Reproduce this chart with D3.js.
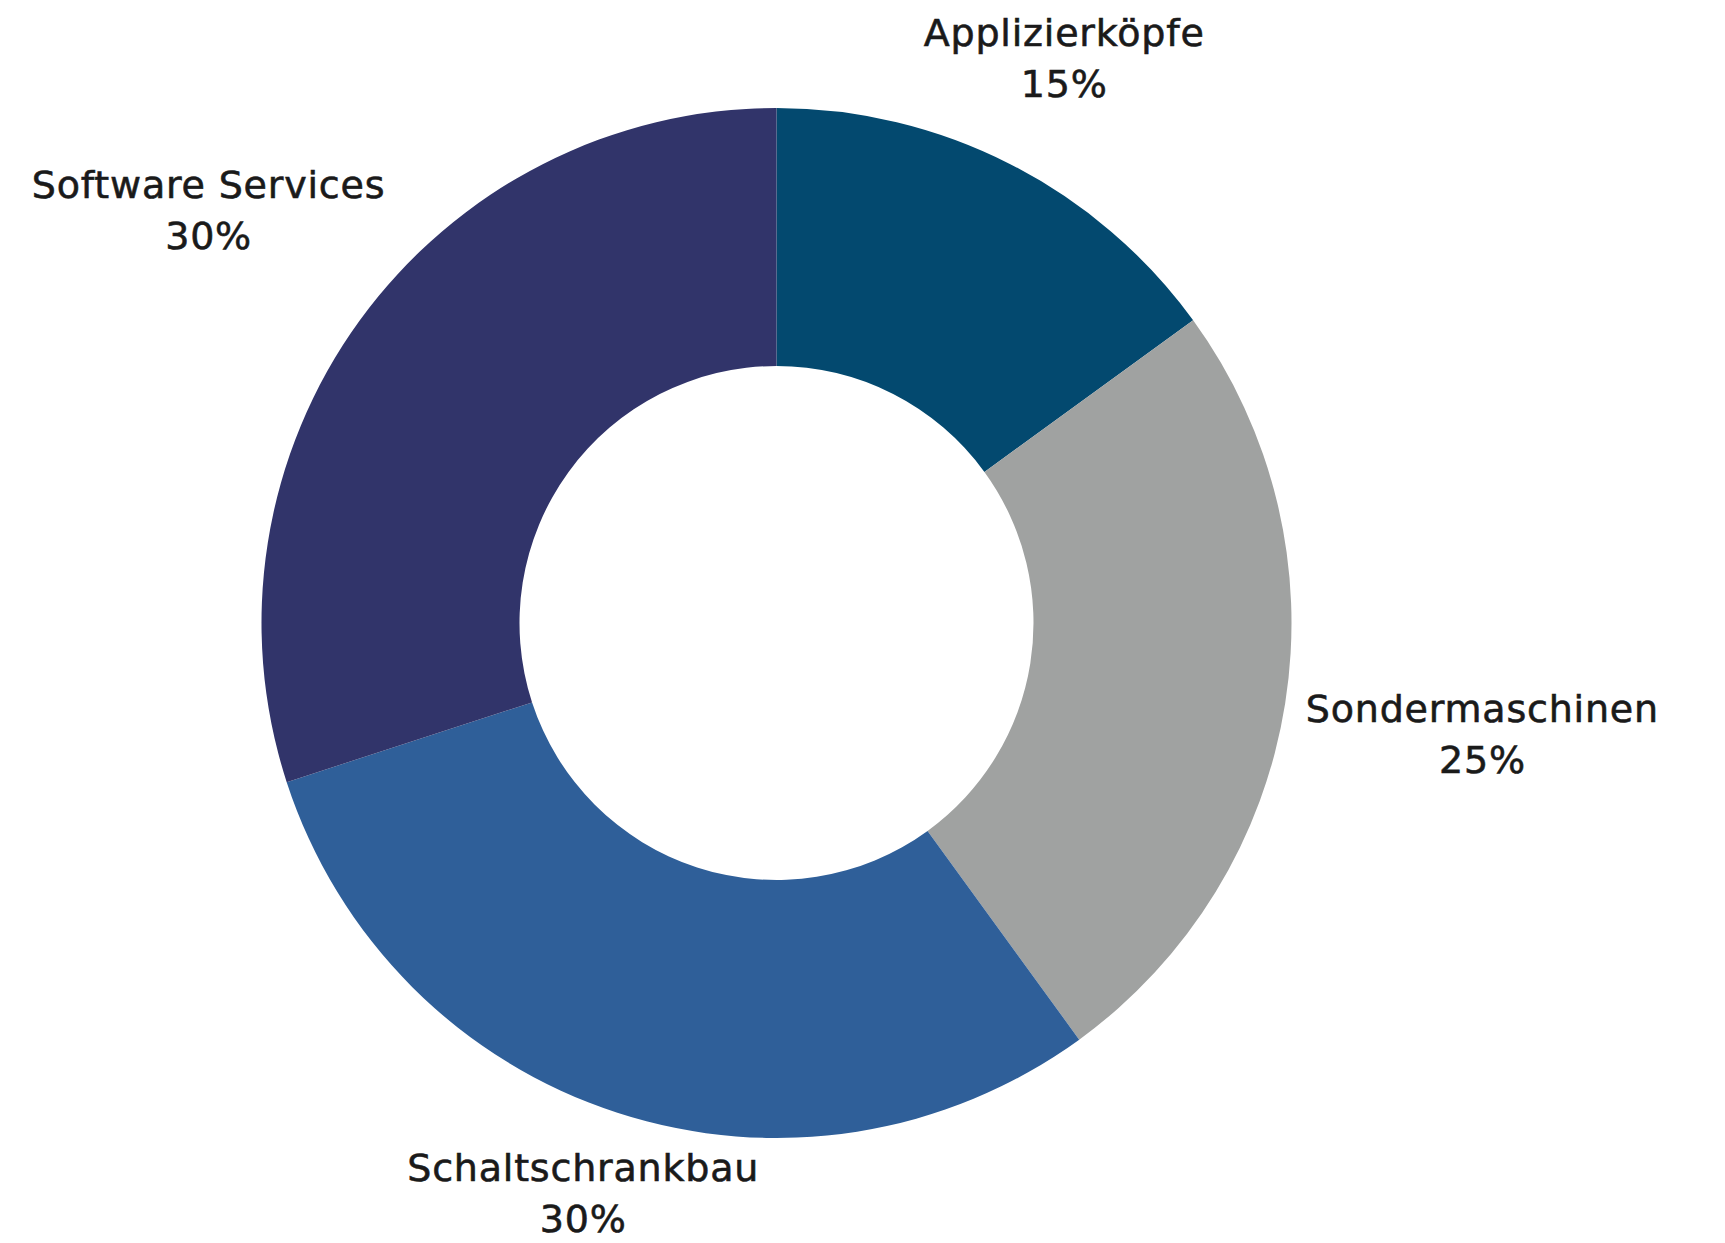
<!DOCTYPE html>
<html>
<head>
<meta charset="utf-8">
<script src="https://cdn.jsdelivr.net/npm/d3@7"></script>
<style>
  html, body { margin: 0; padding: 0; background: #ffffff; }
  svg { display: block; }
</style>
</head>
<body>
<svg id="chart" width="1725" height="1243"></svg>
<script>
const categories = ["Applizierköpfe", "Sondermaschinen", "Schaltschrankbau", "Software Services"];
const values = [15, 25, 30, 30];
const colors = ["#03496f", "#a0a2a1", "#2f5f99", "#31346a"];

const W = 1725, H = 1243;
const cx = 776.5, cy = 623;
const outerR = 515, innerR = 257;
const labelGap = 8;

const data = categories.map((c, i) => ({ name: c, value: values[i], color: colors[i] }));
const svg = d3.select("#chart");
const g = svg.append("g").attr("transform", `translate(${cx},${cy})`);

const pie = d3.pie().value(d => d.value).sort(null);
const arc = d3.arc().innerRadius(innerR).outerRadius(outerR);
const arcs = pie(data);

g.selectAll("path.slice")
  .data(arcs)
  .enter().append("path")
  .attr("class", "slice")
  .attr("d", arc)
  .attr("fill", d => d.data.color);

const total = d3.sum(values);
const fmt = v => Math.round(v / total * 100) + "%";

const labels = g.selectAll("g.label")
  .data(arcs)
  .enter().append("g")
  .attr("class", "label");

labels.each(function(d) {
  const sel = d3.select(this);
  const t = sel.append("text")
    .attr("text-anchor", "middle")
    .style("font-family", "'DejaVu Sans', sans-serif")
    .style("font-size", "38px")
    .style("letter-spacing", "0.8px")
    .attr("fill", "#1a1a1a")
    .attr("stroke", "#1a1a1a")
    .attr("stroke-width", 0.6);
  t.append("tspan").attr("x", 0).attr("y", 0).text(d.data.name);
  t.append("tspan").attr("x", 0).attr("y", 51).text(fmt(d.data.value));
  const bb = t.node().getBBox();
  const a = (d.startAngle + d.endAngle) / 2;
  const s = Math.sin(a), c = Math.cos(a);
  const dist = outerR + labelGap + Math.abs(s) * (bb.width / 2 + 10) + Math.abs(c) * bb.height / 2;
  let px = dist * s;
  let py = -dist * c;
  // keep the label block inside the picture
  const maxBottom = H - cy - 2;
  if (py + bb.height / 2 > maxBottom) py = maxBottom - bb.height / 2;
  const minTop = -cy + 2;
  if (py - bb.height / 2 < minTop) py = minTop + bb.height / 2;
  const bcx = bb.x + bb.width / 2, bcy = bb.y + bb.height / 2;
  sel.attr("transform", `translate(${px - bcx},${py - bcy})`);
});
</script>
</body>
</html>
